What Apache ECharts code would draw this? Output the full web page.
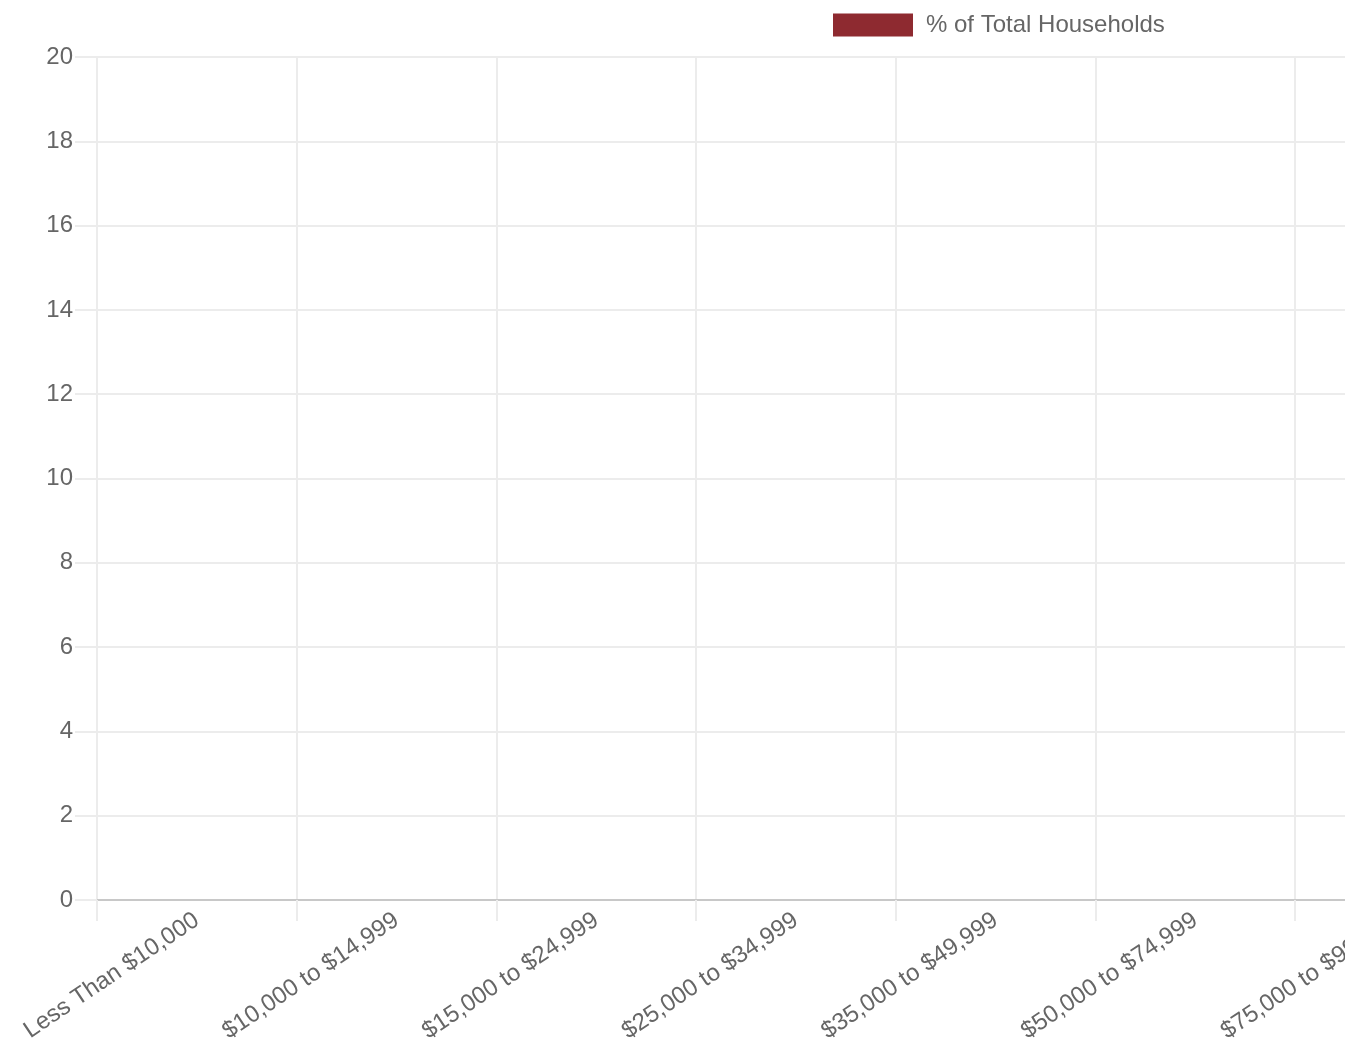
<!DOCTYPE html>
<html>
<head>
<meta charset="utf-8">
<title>Household Income Distribution</title>
<script src="https://cdn.jsdelivr.net/npm/echarts@6/dist/echarts.min.js"></script>
<style>
  html, body { margin: 0; padding: 0; background: #ffffff; overflow: hidden; }
  #chart { width: 2200px; height: 1050px; }
</style>
</head>
<body>
<div id="chart"></div>
<script>
// Household income brackets
const incomeBrackets = [
  'Less Than $10,000',
  '$10,000 to $14,999',
  '$15,000 to $24,999',
  '$25,000 to $34,999',
  '$35,000 to $49,999',
  '$50,000 to $74,999',
  '$75,000 to $99,999',
  '$100,000 to $149,999',
  '$150,000 to $199,999',
  '$200,000 or More'
];

// Share of households in each bracket (no figures reported)
const pctTotalHouseholds = [0, 0, 0, 0, 0, 0, 0, 0, 0, 0];

// Value axis range
const yMin = 0;
const yMax = 20;
const yStep = 2;

const seriesName = '% of Total Households';
const barColor = '#8e2a30';
const gridColor = '#ececec';
const labelColor = '#666666';
const fontFamily = '"Liberation Sans", Arial, Helvetica, sans-serif';

const chart = echarts.init(document.getElementById('chart'), null, { renderer: 'canvas' });

chart.setOption({
  animation: false,
  backgroundColor: '#ffffff',
  legend: {
    left: 833,
    top: 13,
    itemWidth: 80,
    itemHeight: 23,
    itemGap: 10,
    padding: 0,
    icon: 'rect',
    textStyle: { color: labelColor, fontSize: 24, fontFamily: fontFamily, padding: [0, 0, 0, 8] },
    data: [seriesName]
  },
  grid: {
    left: 97,
    top: 57,
    width: 1997,
    height: 843,
    containLabel: false,
    outerBoundsMode: 'none'
  },
  xAxis: {
    type: 'category',
    data: incomeBrackets,
    boundaryGap: true,
    axisLine: { show: true, lineStyle: { color: '#c8c8c8', width: 2 } },
    axisTick: { show: true, length: 21, lineStyle: { color: gridColor, width: 2 } },
    splitLine: { show: true, lineStyle: { color: gridColor, width: 2 } },
    axisLabel: {
      rotate: 34,
      margin: 18,
      interval: 0,
      color: labelColor,
      fontSize: 24,
      fontFamily: fontFamily
    }
  },
  yAxis: {
    type: 'value',
    min: yMin,
    max: yMax,
    interval: yStep,
    axisLine: { show: true, lineStyle: { color: gridColor, width: 2 } },
    axisTick: { show: true, length: 22, lineStyle: { color: gridColor, width: 2 } },
    splitLine: { show: true, lineStyle: { color: gridColor, width: 2 } },
    axisLabel: {
      margin: 24,
      color: labelColor,
      fontSize: 24,
      fontFamily: fontFamily
    }
  },
  series: [{
    name: seriesName,
    type: 'bar',
    data: pctTotalHouseholds,
    itemStyle: { color: barColor },
    barCategoryGap: '20%'
  }]
});
</script>
</body>
</html>
